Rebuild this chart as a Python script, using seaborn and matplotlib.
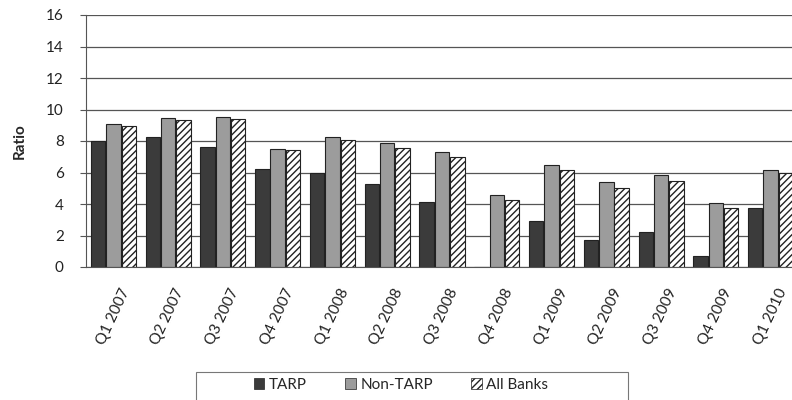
import matplotlib
matplotlib.use("Agg")
import matplotlib.pyplot as plt
import matplotlib.transforms as mtransforms
from matplotlib.patches import Patch, Rectangle
import seaborn as sns
import pandas as pd

quarters = ["Q1 2007", "Q2 2007", "Q3 2007", "Q4 2007", "Q1 2008", "Q2 2008", "Q3 2008",
            "Q4 2008", "Q1 2009", "Q2 2009", "Q3 2009", "Q4 2009", "Q1 2010"]
tarp = [8.0, 8.25, 7.6, 6.2, 6.0, 5.3, 4.1, 0.0, 2.9, 1.7, 2.2, 0.7, 3.75]
non_tarp = [9.05, 9.45, 9.5, 7.5, 8.25, 7.9, 7.3, 4.6, 6.5, 5.4, 5.85, 4.05, 6.15]
all_banks = [8.95, 9.35, 9.4, 7.4, 8.05, 7.55, 7.0, 4.25, 6.15, 5.0, 5.45, 3.75, 5.95]
series = ["TARP", "Non-TARP", "All Banks"]
colors = ["#3b3b3b", "#9c9c9c", "#ffffff"]

df = pd.DataFrame({
    "quarter": quarters * 3,
    "ratio": tarp + non_tarp + all_banks,
    "series": [s for s in series for _ in quarters],
})

sns.set_style("white")
plt.rcParams["font.family"] = ["Lato", "DejaVu Sans"]

fig = plt.figure(figsize=(7.92, 4), dpi=100)
ax = fig.add_axes([86 / 792, 133 / 400, 712 / 792, 252 / 400])

sns.barplot(data=df, x="quarter", y="ratio", hue="series", palette=colors,
            edgecolor="#222222", linewidth=0.8, width=0.84, gap=0.06,
            legend=False, ax=ax)

# hatched white bars for All Banks
for bar in ax.containers[2]:
    bar.set_hatch("/////")
    bar.set_facecolor("white")

ax.set_ylim(0, 16)
ax.set_yticks(range(0, 17, 2))
ax.set_xlim(-0.5, len(quarters) - 0.5)
ax.yaxis.grid(True, color="#555555", linewidth=0.9)
ax.set_axisbelow(True)
for side in ["top", "right"]:
    ax.spines[side].set_visible(False)
ax.spines["left"].set_color("#555555")
ax.spines["bottom"].set_color("#555555")

# group boundary ticks on x
ax.set_xticks([i - 0.5 for i in range(len(quarters) + 1)], minor=True)
ax.tick_params(axis="x", which="minor", length=5, color="#555555", direction="out")
ax.tick_params(axis="x", which="major", length=0, labelsize=11, pad=14)
ax.tick_params(axis="y", length=4, color="#555555", direction="out", labelsize=11,
               left=True, pad=12)
ax.set_xticks(range(len(quarters)))
ax.set_xticklabels(quarters, rotation=65, ha="right", rotation_mode="anchor", color="#222222")
shift = mtransforms.ScaledTranslation(6 / 100, 0, fig.dpi_scale_trans)
for t in ax.get_xticklabels():
    t.set_transform(t.get_transform() + shift)
for t in ax.get_yticklabels():
    t.set_color("#222222")

ax.set_xlabel("")
ax.set_ylabel("Ratio", fontsize=11, fontweight="bold", labelpad=14)

handles = [Patch(facecolor=colors[0], edgecolor="#222222", linewidth=0.5),
           Patch(facecolor=colors[1], edgecolor="#222222", linewidth=0.5),
           Patch(facecolor="white", edgecolor="#222222", hatch="/////", linewidth=0.5)]
fig.legend(handles, series, loc="center", bbox_to_anchor=(401 / 792, 15 / 400),
           ncol=3, frameon=False, handlelength=0.7, handleheight=0.7, handletextpad=0.3,
           columnspacing=2.5, fontsize=11, borderaxespad=0)
# legend box
fig.patches.append(Rectangle((196 / 792, -2 / 400), 432 / 792, 30 / 400,
                             transform=fig.transFigure, fill=False,
                             edgecolor="#777777", linewidth=0.8))

fig.savefig("out.png", dpi=100)
